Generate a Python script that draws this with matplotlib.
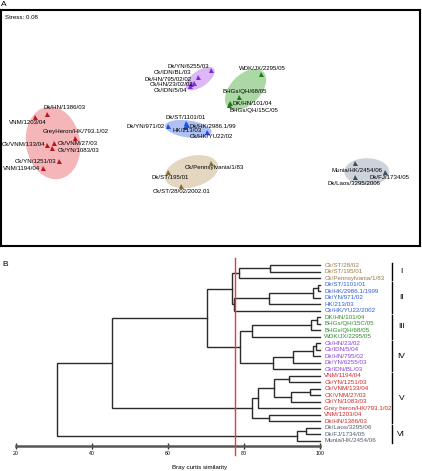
import matplotlib
matplotlib.use('Agg')
import matplotlib.pyplot as plt
from matplotlib.patches import Ellipse

plt.rcParams['font.family'] = ['Liberation Sans', 'DejaVu Sans']

W, H = 422, 471

# ---------------- Panel A data (NMDS coordinates) ----------------
strains = [
    'Dk/HN/1386/03', 'VNM/1203/04', 'GreyHeron/HK/793.1/02', 'Ck/VNM/27/03',
    'Ck/VNM/133/04', 'Ck/YN/1083/03', 'Ck/YN/1251/03', 'VNM/1194/04',
    'Dk/YN/6255/03', 'Ck/IDN/BL/03', 'Dk/HN/795/02/02', 'Ck/HN/23/02/02', 'Ck/IDN/5/04',
    'WDK/JX/2295/05', 'BHGs/QH/68/05', 'DK/HN/101/04', 'BHGs/QH/15C/05',
    'Dk/ST/1101/01', 'Dk/HK/2986.1/99', 'Dk/YN/971/02', 'HK/213/03', 'Ck/HK/YU22/02',
    'Ck/Pennsylvania/1/83', 'Dk/ST/195/01', 'Ck/ST/28/02/2002.01',
    'Munia/HK/2454/06', 'Dk/FJ/1734/05', 'Dk/Laos/3295/2006',
]
strain_group = (['V'] * 8 + ['IV'] * 5 + ['III'] * 4 + ['II'] * 5 + ['I'] * 3 + ['VI'] * 3)
mds1 = [-1.633, -1.75, -1.35, -1.56, -1.633, -1.583, -1.507, -1.673,
        0.01, -0.123, -0.157, -0.19, -0.20,
        0.507, 0.293, 0.20, 0.193,
        -0.245, -0.23, -0.417, -0.255, -0.027,
        0.005, -0.423, -0.29,
        1.453, 1.75, 1.45]
mds2 = [0.14, 0.113, -0.103, -0.147, -0.167, -0.20, -0.327, -0.397,
        0.58, 0.513, 0.453, 0.437, 0.42,
        0.54, 0.307, 0.253, 0.23,
        0.055, 0.035, 0.02, 0.015, -0.037,
        -0.347, -0.437, -0.58,
        -0.353, -0.437, -0.493]
stress = 0.08

# label placement (pixel offset, alignment)
label_offsets = [
    (-2.7, -6.3, 'left'), (-7, 6, 'center'), (0.8, -6.6, 'center'), (3.3, 0.6, 'left'),
    (-1.7, 0, 'right'), (5.6, 2, 'left'), (-3.3, 1, 'right'), (-2, 0.6, 'right'),
    (-2, -4, 'right'), (-6, -4, 'right'), (-2.6, -3.4, 'right'), (2.3, 0.4, 'right'), (-2.3, 4, 'right'),
    (1.6, -5.7, 'center'), (5.7, -5.6, 'center'), (2.7, 0.6, 'left'), (-0.3, 5.7, 'left'),
    (0.5, -5.2, 'center'), (2.3, 1.5, 'left'), (-4, 0.7, 'right'), (2.3, 4.5, 'center'), (4.2, 5, 'center'),
    (4.2, 5, 'center'), (2.3, 6, 'center'), (0.7, 5.7, 'center'),
    (1.5, 7.4, 'center'), (4, 5.6, 'center'), (-0.7, 6, 'center'),
]
# group ellipses: center x, center y, width, height, angle
ellipses = {
    'V': (-1.57, -0.15, 0.54, 0.73, 10),
    'IV': (-0.10, 0.493, 0.34, 0.16, 35),
    'III': (0.355, 0.385, 0.50, 0.30, 45),
    'II': (-0.217, -0.01, 0.47, 0.17, -8),
    'I': (-0.185, -0.437, 0.55, 0.31, 15),
    'VI': (1.568, -0.437, 0.45, 0.27, 0),
}
fill_colors = {'V': '#F4B6B9', 'IV': '#DDB8F6', 'III': '#ABD8A4',
               'II': '#AFC0F2', 'I': '#E3D7C2', 'VI': '#CDD3DA'}
mark_colors = {'V': '#C0141C', 'IV': '#7A2FD6', 'III': '#1F7A1F',
               'II': '#2050E0', 'I': '#8A6A35', 'VI': '#3E4C5A'}
text_colors = {'I': '#9C7A45', 'II': '#2E5BD8', 'III': '#2D8A2D',
               'IV': '#8A3FD8', 'V': '#D02828', 'VI': '#4E5E6E'}

# ---------------- Panel B data (dendrogram) ----------------
leaves = [
    'Ck/ST/28/02', 'Dk/ST/195/01', 'Ck/Pennsylvania/1/83',
    'Dk/ST/1101/01', 'Dk/HK/2986.1/1999', 'Dk/YN/971/02', 'HK/213/03', 'Ck/HK/YU22/2002',
    'DK/HN/101/04', 'BHGs/QH/15C/05', 'BHGs/QH/68/05', 'WDK/JX/2295/05',
    'Ck/HN/23/02', 'Ck/IDN/5/04', 'Dk/HN/795/02', 'Dk/YN/6255/03', 'Ck/IDN/BL/03',
    'VNM/1194/04', 'Ck/YN/1251/03', 'Ck/VNM/133/04', 'CK/VNM/27/03', 'Ck/YN/1083/03',
    'Grey heron/HK/793.1/02', 'VNM/1203/04', 'Dk/HN/1386/03',
    'Dk/Laos/3295/06', 'Dk/FJ/1734/05', 'Munia/HK/2454/06',
]
leaf_group = ['I'] * 3 + ['II'] * 5 + ['III'] * 4 + ['IV'] * 5 + ['V'] * 8 + ['VI'] * 3
merges = [
    ('Ck/ST/28/02', 'Dk/ST/195/01', 86.9),          # 0
    (0, 'Ck/Pennsylvania/1/83', 78.6),              # 1
    ('Dk/ST/1101/01', 'Dk/HK/2986.1/1999', 99.3),   # 2
    (2, 'Dk/YN/971/02', 98.0),                      # 3
    (3, 'HK/213/03', 86.6),                         # 4
    (4, 'Ck/HK/YU22/2002', 77.3),                   # 5
    (1, 5, 76.7),                                   # 6
    ('DK/HN/101/04', 'BHGs/QH/15C/05', 99.1),       # 7
    (7, 'BHGs/QH/68/05', 97.6),                     # 8
    (8, 'WDK/JX/2295/05', 82.0),                    # 9
    ('Ck/HN/23/02', 'Ck/IDN/5/04', 98.9),           # 10
    (10, 'Dk/HN/795/02', 98.0),                     # 11
    (11, 'Dk/YN/6255/03', 92.8),                    # 12
    (12, 'Ck/IDN/BL/03', 87.5),                     # 13
    (9, 13, 79.0),                                  # 14
    (6, 14, 70.2),                                  # 15
    ('VNM/1194/04', 'Ck/YN/1251/03', 91.9),         # 16
    ('Ck/VNM/133/04', 'CK/VNM/27/03', 97.4),        # 17
    (17, 'Ck/YN/1083/03', 92.3),                    # 18
    (16, 18, 87.9),                                 # 19
    (19, 'Grey heron/HK/793.1/02', 83.6),           # 20
    ('VNM/1203/04', 'Dk/HN/1386/03', 86.6),         # 21
    (20, 21, 82.1),                                 # 22
    (15, 22, 45.2),                                 # 23
    ('Dk/Laos/3295/06', 'Dk/FJ/1734/05', 96.2),     # 24
    (24, 'Munia/HK/2454/06', 93.9),                 # 25
    (23, 25, 30.9),                                 # 26
]
cutoff = 77.5
sim_ticks = [20, 40, 60, 80, 100]
clusters = ['I', 'II', 'III', 'IV', 'V', 'VI']

# ---------------- Figure ----------------
fig = plt.figure(figsize=(W / 100, H / 100), dpi=100)


def rect(x0, y0, x1, y1):
    return [x0 / W, 1 - y1 / H, (x1 - x0) / W, (y1 - y0) / H]


# Panel A
axA = fig.add_axes(rect(1, 10, 420, 246))
axA.set_xlim(-2.09, 2.10)
axA.set_ylim(-1.18, 1.18)
axA.set_xticks([])
axA.set_yticks([])
for sp in axA.spines.values():
    sp.set_linewidth(1.5)
    sp.set_color('black')

for g, (cx, cy, w, h, ang) in ellipses.items():
    axA.add_patch(Ellipse((cx, cy), w, h, angle=ang, facecolor=fill_colors[g],
                          edgecolor='none', zorder=1))

for name, g, x, y, (dx, dy, ha) in zip(strains, strain_group, mds1, mds2, label_offsets):
    axA.plot(x, y, marker='^', color=mark_colors[g], markersize=3.6,
             markeredgewidth=0, linestyle='none', zorder=3)
    axA.annotate(name, (x, y), xytext=(dx, -dy), textcoords='offset pixels',
                 ha=ha, va='center', fontsize=4.4, color='black', zorder=4,
                 annotation_clip=False)

axA.text(0.01, 0.98, f'Stress: {stress:.2f}', transform=axA.transAxes,
         fontsize=4.4, ha='left', va='top')

fig.text(3.3 / W, 1 - 4.2 / H, 'A', fontsize=6, ha='center', va='center')
fig.text(5.3 / W, 1 - 265 / H, 'B', fontsize=6, ha='center', va='center')

# Panel B
y_top, y_bot = -1.076, 27.77
axB = fig.add_axes(rect(15.7, 258, 320.3, 445.7))
axB.set_xlim(20, 100)
axB.set_ylim(y_bot, y_top)
for s in ['top', 'left', 'right']:
    axB.spines[s].set_visible(False)
axB.spines['bottom'].set_linewidth(1.8)
axB.spines['bottom'].set_color('#555555')
axB.set_yticks([])
axB.set_xticks(sim_ticks)
axB.tick_params(axis='x', direction='inout', length=5, width=1, color='#333333',
                labelsize=3.8, pad=1.5)
axB.patch.set_visible(False)

pos = {}
for i, name in enumerate(leaves):
    pos[name] = (100.0, i)
for k, (a, b, s) in enumerate(merges):
    xa, ya = pos[a]
    xb, yb = pos[b]
    axB.plot([xa, s, s, xb], [ya, ya, yb, yb], color='#2b2b2b', lw=1.0,
             solid_joinstyle='miter', clip_on=False, zorder=2)
    pos[k] = (s, (ya + yb) / 2)

for i, (name, g) in enumerate(zip(leaves, leaf_group)):
    axB.text(101.05, i, name, fontsize=4.5, color=text_colors[g],
             ha='left', va='center', clip_on=False)

for c in clusters:
    idx = [i for i, g in enumerate(leaf_group) if g == c]
    lo, hi = min(idx) - 0.35, max(idx) + 0.35
    axB.plot([118.75, 118.75], [lo, hi], color='black', lw=1.0, clip_on=False)
    axB.text(121.3, (lo + hi) / 2, c, fontsize=6, ha='center', va='center',
             clip_on=False)

axB.plot([cutoff, cutoff], [y_top, 29.2], color='#E8393C', lw=1.0,
         clip_on=False, zorder=3)

fig.text(200 / W, 1 - 467 / H, 'Bray curtis similarity', fontsize=4.5,
         ha='center', va='center')

fig.savefig('out.png', dpi=100)
